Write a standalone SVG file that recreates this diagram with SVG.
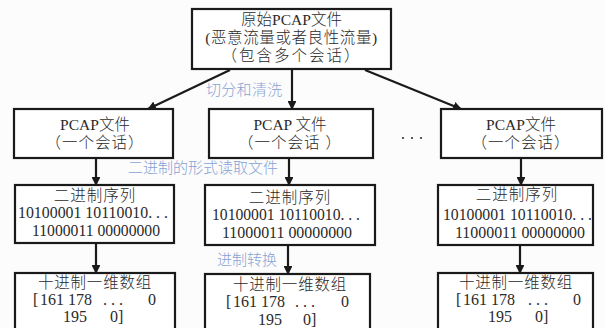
<svg xmlns="http://www.w3.org/2000/svg" width="605" height="328" viewBox="0 0 605 328">
  <style>
    .box { fill: #ffffff; stroke: #1a1a1a; stroke-width: 2.2; }
    .t { font-family: "Liberation Serif", "Noto Sans CJK SC", serif; font-size: 15.5px; fill: #2a2a2a; text-anchor: middle; font-weight: 300; }
    .n { font-family: "Liberation Serif", "Noto Sans CJK SC", serif; font-size: 16px; fill: #2a2a2a; }
    .lbl { font-family: "Liberation Serif", "Noto Sans CJK SC", serif; font-size: 15px; fill: #86a3d4; font-weight: 300; }
    .edge { stroke: #1a1a1a; stroke-width: 2.2; fill: none; marker-end: url(#head); }
  </style>
  <defs>
    <marker id="head" viewBox="0 0 10 10" refX="9" refY="5" markerWidth="4" markerHeight="4" orient="auto" markerUnits="strokeWidth">
      <path d="M0,0 L10,5 L0,10 Z" fill="#1a1a1a"/>
    </marker>
  </defs>
  <rect width="605" height="328" fill="#fcfcfc"/>

  <!-- source capture -->
  <g id="raw-pcap">
    <rect class="box" x="192" y="9" width="199" height="60"/>
    <text class="t" x="291.5" y="25">原始PCAP文件</text>
    <text class="t" x="291.5" y="43" letter-spacing="0.6">(恶意流量或者良性流量)</text>
    <text class="t" x="291.5" y="61" letter-spacing="2">（包含多个会话）</text>
  </g>

  <!-- per-session files -->
  <g id="pcap-1">
    <rect class="box" x="14" y="109" width="159" height="49"/>
    <text class="t" x="95" y="130">PCAP文件</text>
    <text class="t" x="95" y="148" letter-spacing="1">（一个会话）</text>
  </g>
  <g id="pcap-2">
    <rect class="box" x="209" y="109" width="164" height="49"/>
    <text class="t" x="290" y="130">PCAP 文件</text>
    <text class="t" x="290" y="148" letter-spacing="1">（一个会话 ）</text>
  </g>
  <g id="pcap-n">
    <rect class="box" x="441" y="109" width="161" height="49"/>
    <text class="t" x="521" y="130">PCAP文件</text>
    <text class="t" x="521" y="148" letter-spacing="1">（一个会话）</text>
  </g>
  <g id="ellipsis">
    <circle cx="403" cy="138" r="1.1" fill="#333"/>
    <circle cx="412" cy="138" r="1.1" fill="#333"/>
    <circle cx="421" cy="138" r="1.1" fill="#333"/>
  </g>

  <!-- binary sequences -->
  <g id="bin-1">
    <rect class="box" x="15" y="185" width="159" height="58"/>
    <text class="t" x="95" y="201" letter-spacing="1">二进制序列</text>
    <text class="n" x="18" y="218" textLength="150" lengthAdjust="spacingAndGlyphs">10100001 10110010. . .</text>
    <text class="n" x="32" y="236" textLength="128" lengthAdjust="spacingAndGlyphs">11000011 00000000</text>
  </g>
  <g id="bin-2">
    <rect class="box" x="205" y="185" width="170" height="60"/>
    <text class="t" x="290" y="203" letter-spacing="1">二进制序列</text>
    <text class="n" x="212" y="220" textLength="148" lengthAdjust="spacingAndGlyphs">10100001 10110010. . .</text>
    <text class="n" x="222" y="238" textLength="130" lengthAdjust="spacingAndGlyphs">11000011 00000000</text>
  </g>
  <g id="bin-n">
    <rect class="box" x="438" y="185" width="155" height="60"/>
    <text class="t" x="517" y="200" letter-spacing="1">二进制序列</text>
    <text class="n" x="443" y="220" textLength="149" lengthAdjust="spacingAndGlyphs">10100001 10110010. . .</text>
    <text class="n" x="455" y="238" textLength="130" lengthAdjust="spacingAndGlyphs">11000011 00000000</text>
  </g>

  <!-- decimal arrays -->
  <g id="dec-1">
    <rect class="box" x="15" y="273" width="160" height="70"/>
    <text class="t" x="95" y="288" letter-spacing="0.8">十进制一维数组</text>
    <text class="n" x="33" y="305">[</text>
    <text class="n" x="40" y="305">161</text>
    <text class="n" x="68" y="305">178</text>
    <text class="n" x="103" y="305">. . .</text>
    <text class="n" x="148" y="305">0</text>
    <text class="n" x="63" y="322">195</text>
    <text class="n" x="110" y="322">0]</text>
  </g>
  <g id="dec-2">
    <rect class="box" x="205" y="274" width="165" height="70"/>
    <text class="t" x="290" y="290" letter-spacing="0.8">十进制一维数组</text>
    <text class="n" x="226" y="307">[</text>
    <text class="n" x="233" y="307">161</text>
    <text class="n" x="261" y="307">178</text>
    <text class="n" x="295" y="307">. . .</text>
    <text class="n" x="341" y="307">0</text>
    <text class="n" x="258" y="325">195</text>
    <text class="n" x="303" y="325">0]</text>
  </g>
  <g id="dec-n">
    <rect class="box" x="438" y="273" width="155" height="70"/>
    <text class="t" x="516" y="288" letter-spacing="0.8">十进制一维数组</text>
    <text class="n" x="456" y="305">[</text>
    <text class="n" x="463" y="305">161</text>
    <text class="n" x="491" y="305">178</text>
    <text class="n" x="528" y="305">. . .</text>
    <text class="n" x="573" y="305">0</text>
    <text class="n" x="488" y="322">195</text>
    <text class="n" x="535" y="322">0]</text>
  </g>

  <!-- connectors -->
  <g id="connectors">
    <line class="edge" x1="230" y1="70" x2="148" y2="109"/>
    <line class="edge" x1="292" y1="70" x2="292" y2="109"/>
    <line class="edge" x1="365" y1="70" x2="461" y2="109"/>
    <line class="edge" x1="96" y1="158" x2="96" y2="185"/>
    <line class="edge" x1="289" y1="158" x2="289" y2="185"/>
    <line class="edge" x1="521" y1="158" x2="521" y2="185"/>
    <line class="edge" x1="96" y1="243" x2="96" y2="273"/>
    <line class="edge" x1="288" y1="245" x2="288" y2="274"/>
    <line class="edge" x1="520" y1="245" x2="520" y2="273"/>
  </g>

  <!-- step labels -->
  <g id="labels">
    <text class="lbl" x="206" y="95" letter-spacing="0.3">切分和清洗</text>
    <text class="lbl" x="128" y="173">二进制的形式读取文件</text>
    <text class="lbl" x="217" y="265">进制转换</text>
  </g>
</svg>
